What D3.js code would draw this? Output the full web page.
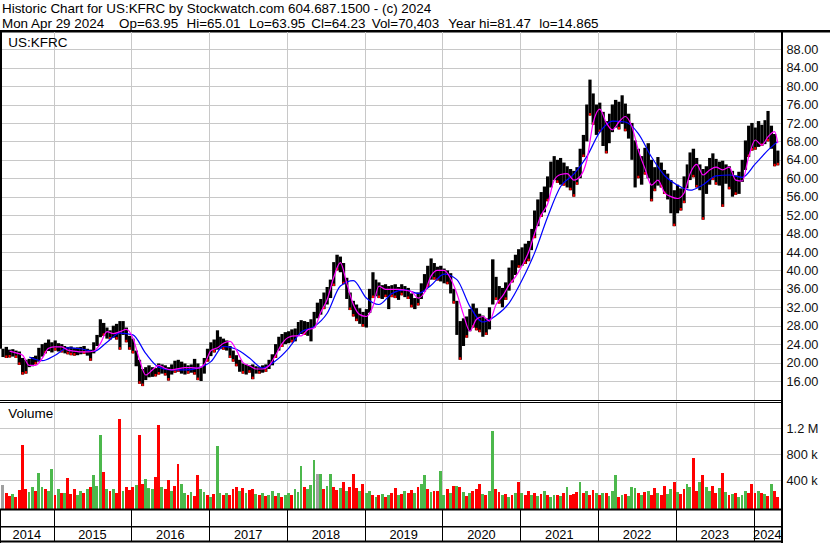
<!DOCTYPE html>
<html>
<head>
<meta charset="utf-8">
<title>US:KFRC historic chart</title>
<script src="https://cdn.jsdelivr.net/npm/d3@7"></script>
<style>
  body { margin: 0; background: #fff; }
  svg { display: block; font-family: "Liberation Sans", Arial, sans-serif; }
</style>
</head>
<body>
<div id="chart"></div>
<script>
// Header texts
var titleLine = "Historic Chart for US:KFRC by Stockwatch.com 604.687.1500 - (c) 2024";
var quoteFields = ["Mon Apr 29 2024", "Op=63.95", "Hi=65.01", "Lo=63.95", "Cl=64.23", "Vol=70,403", "Year hi=81.47", "lo=14.865"];
var symbol = "US:KFRC";

// Axis ticks
var priceTicks = [16, 20, 24, 28, 32, 36, 40, 44, 48, 52, 56, 60, 64, 68, 72, 76, 80, 84, 88];
var volTicks = [400000, 800000, 1200000];
var volTickLabels = ["400 k", "800 k", "1.2 M"];
var years = [2014, 2015, 2016, 2017, 2018, 2019, 2020, 2021, 2022, 2023, 2024];

// Price range per half-month slot, May 2014 (1st half) .. Apr 2024 (2nd half)
var highs = [
  23.0, 23.4, 22.8, 22.9, 22.6, 22.4, 21.0, 20.6, 20.8, 21.2, 21.5, 23.2, 24.0, 24.3, 25.0, 24.4,             // 2014
  24.8, 24.2, 24.0, 23.6, 23.4, 23.5, 23.2, 23.3, 23.4, 23.6, 23.0, 22.8, 24.4, 26.0, 29.4, 28.6, 27.6, 27.0, 28.0, 28.4, 29.0, 29.0, 27.6, 25.8, // 2015
  25.2, 22.6, 20.6, 18.6, 19.0, 19.4, 19.0, 18.8, 19.8, 19.6, 19.4, 19.0, 19.6, 20.4, 20.6, 20.2, 19.8, 19.4, 19.6, 20.8, 19.8, 19.0, 21.0, 23.0, // 2016
  24.4, 25.0, 27.0, 25.6, 25.2, 24.8, 23.6, 22.6, 21.6, 20.6, 19.8, 19.6, 19.4, 19.6, 19.2, 19.0, 19.4, 19.6, 20.6, 21.8, 24.0, 25.6, 26.2, 26.6, // 2017
  26.8, 27.2, 27.4, 28.8, 29.2, 29.0, 28.8, 29.4, 31.0, 33.0, 33.8, 35.2, 36.4, 38.0, 41.8, 43.4, 43.0, 41.6, 38.4, 35.2, 33.4, 32.6, 31.8, 31.0, // 2018
  31.6, 36.0, 39.6, 38.0, 37.4, 36.8, 37.0, 36.6, 36.8, 37.0, 36.4, 37.0, 36.6, 36.2, 35.0, 34.0, 35.2, 37.2, 39.2, 41.0, 42.6, 41.6, 40.8, 41.0, // 2019
  40.4, 40.0, 39.4, 36.0, 33.4, 29.0, 29.6, 30.0, 31.6, 32.8, 31.8, 30.6, 30.2, 29.6, 32.0, 42.4, 38.6, 36.6, 36.2, 37.4, 40.6, 42.2, 43.4, 44.6, // 2020
  45.0, 45.8, 46.4, 49.0, 53.0, 55.4, 57.0, 58.2, 60.4, 63.6, 64.8, 64.0, 64.4, 63.4, 62.6, 62.0, 61.6, 62.4, 66.4, 69.4, 76.0, 81.4, 78.4, 76.0, // 2021
  76.4, 74.4, 72.4, 74.0, 76.0, 77.0, 76.6, 78.0, 76.2, 74.0, 72.0, 68.2, 66.4, 64.8, 66.6, 67.6, 64.0, 62.4, 64.6, 63.4, 61.8, 61.0, 59.6, 57.4, // 2022
  58.6, 57.8, 60.4, 63.0, 65.6, 66.4, 64.4, 63.0, 62.0, 62.6, 64.4, 65.4, 64.2, 63.6, 63.8, 63.0, 62.6, 61.6, 60.6, 61.4, 64.0, 68.2, 71.4, 72.0, // 2023
  71.0, 72.4, 71.6, 72.6, 74.6, 71.4, 69.6, 66.0                                                             // 2024
];
var lows = [
  21.2, 21.0, 21.1, 21.3, 21.0, 19.5, 17.4, 17.6, 19.0, 19.2, 19.6, 20.2, 21.3, 22.0, 22.5, 22.2,
  22.6, 22.4, 22.2, 22.0, 21.8, 21.6, 21.5, 21.6, 21.8, 21.9, 21.5, 20.4, 22.0, 23.6, 25.5, 25.8, 25.2, 25.0, 25.4, 25.0, 22.8, 26.0, 24.4, 22.8,
  22.0, 19.2, 15.4, 14.9, 16.2, 16.8, 16.9, 17.0, 17.4, 17.6, 17.2, 16.1, 17.4, 17.8, 18.0, 17.6, 17.4, 17.6, 17.8, 17.4, 16.2, 16.0, 17.6, 20.2,
  21.4, 22.2, 22.8, 23.0, 22.8, 22.6, 21.0, 20.2, 19.2, 18.0, 17.6, 17.4, 17.8, 16.4, 17.6, 17.6, 17.8, 18.0, 18.6, 19.4, 21.0, 22.6, 23.4, 24.0,
  24.2, 24.4, 24.6, 25.8, 26.2, 26.0, 25.8, 24.6, 27.6, 29.6, 30.4, 31.6, 32.6, 34.0, 36.6, 40.0, 39.6, 37.0, 33.8, 31.4, 30.0, 29.0, 28.4, 27.8,
  27.6, 30.8, 34.0, 34.4, 34.0, 33.8, 34.2, 31.6, 34.2, 34.0, 33.6, 34.6, 34.2, 33.8, 32.0, 31.6, 32.4, 33.8, 35.4, 36.4, 38.0, 38.0, 37.8, 37.6,
  37.2, 37.0, 35.0, 32.8, 26.0, 20.6, 23.6, 25.4, 26.8, 27.6, 27.0, 26.6, 25.6, 26.0, 27.2, 32.6, 33.6, 32.8, 32.0, 33.6, 35.6, 37.4, 39.0, 40.6,
  41.0, 41.4, 42.0, 44.4, 47.0, 49.6, 51.6, 52.6, 55.0, 58.0, 59.6, 59.0, 58.6, 58.4, 58.0, 57.4, 56.0, 58.6, 60.0, 64.6, 68.0, 73.6, 71.6, 69.4,
  70.0, 67.0, 65.4, 67.6, 70.0, 71.0, 70.6, 71.8, 70.2, 68.6, 64.0, 58.0, 60.0, 58.6, 60.8, 60.0, 55.0, 57.2, 58.4, 58.0, 56.6, 55.4, 52.4, 49.6,
  52.4, 53.0, 54.6, 57.8, 59.6, 60.2, 58.0, 57.4, 51.0, 56.6, 58.6, 59.6, 58.6, 58.4, 53.8, 58.8, 57.6, 56.0, 56.4, 56.6, 59.2, 61.8, 64.6, 66.0,
  66.2, 66.8, 67.0, 67.4, 68.0, 66.4, 62.6, 62.8
];

// Magenta average, read at slots 2, 4, ... 238 and the last slot 239
var maFast = [
  22.5, 22.1, 21.6, 19.4, 19.4, 20.9, 23.1,
  23.4, 23.4, 22.7, 22.5, 22.3, 22.3, 22.5, 24.1, 26.7, 26.3, 26.7, 27.2,
  25.3, 20.6, 17.3, 18.4, 19.4, 18.7, 18.4, 18.7, 18.9, 18.9, 18.8, 19.6,
  22.6, 23.2, 24.2, 24.6, 22.7, 20.0, 19.3, 18.6, 18.6, 19.3, 21.6, 24.1,
  25.5, 25.8, 25.8, 27.1, 27.5, 30.9, 33.7, 38.5, 41.7, 37.2, 32.6, 30.4,
  30.0, 32.2, 36.6, 35.9, 35.9, 35.9, 35.7, 35.4, 34.0, 35.2, 38.8, 40.0,
  40.0, 38.2, 35.0, 30.4, 26.8, 29.4, 30.0, 29.0, 32.6, 34.4, 36.8, 38.6,
  41.0, 44.0, 48.0, 52.0, 54.4, 59.6, 60.8, 61.0, 59.6, 60.4, 63.9, 72.0,
  75.0, 72.0, 70.5, 72.2, 73.4, 71.2, 66.1, 62.1, 58.5, 59.6, 56.9, 56.0,
  55.6, 56.8, 61.0, 63.0, 60.7, 61.8, 62.4, 61.8, 62.4, 59.6, 59.4, 64.6,
  68.3, 67.2, 69.0, 70.1, 67.6
];

// Blue average, read at slots 8, 12, ... 236 and the last slot 239
var maSlow = [
  21.2, 20.4, 21.6, 23.2, 23.0, 22.4, 24.4, 26.4, 26.0, 22.0, 19.0, 18.4,
  18.4, 18.8, 20.2, 23.5, 22.9, 21.0, 18.8, 20.4, 23.1, 26.6, 27.8, 30.7,
  36.6, 37.8, 34.0, 32.6, 35.0, 35.8, 35.0, 36.8, 39.2, 38.0, 32.2, 28.8,
  30.2, 32.9, 37.9, 43.8, 51.6, 58.2, 60.9, 64.7, 70.0, 72.4, 72.2, 69.7,
  64.6, 60.6, 58.5, 57.4, 58.6, 60.5, 60.7, 60.2, 63.1, 66.1,
  68.0
];

// Volume per slot (thousands) and direction: u = up, d = down, n = unchanged
var volume = [
  330, 200, 160, 190, 150, 250, 940, 260, 220, 290, 240, 520, 300, 260, 230, 570,
  180, 260, 210, 200, 440, 190, 260, 170, 230, 200, 270, 300, 480, 320, 1100, 530, 260, 230, 270, 210, 1350, 240, 290, 250,
  300, 330, 1100, 350, 420, 280, 260, 450, 1250, 300, 260, 400, 240, 310, 650, 350, 200, 180, 220, 160, 480, 260, 220, 180,
  150, 190, 930, 210, 180, 200, 170, 260, 300, 230, 280, 210, 250, 270, 190, 170, 200, 160, 180, 230, 160, 210, 150, 170,
  200, 180, 270, 220, 620, 300, 260, 330, 710, 500, 500, 270, 310, 490, 300, 250, 280, 370, 230, 300, 500, 280, 230, 350,
  200, 240, 180, 150, 170, 190, 140, 170, 210, 280, 170, 190, 230, 200, 250, 200, 300, 350, 480, 260, 220, 240, 240, 540,
  170, 260, 200, 310, 320, 300, 220, 160, 200, 230, 260, 350, 190, 170, 240, 1160, 260, 220, 170, 190, 150, 170, 200, 370,
  200, 180, 230, 170, 210, 160, 190, 230, 170, 150, 180, 180, 160, 200, 300, 170, 190, 220, 370, 200, 230, 180, 250, 200,
  170, 200, 210, 160, 230, 480, 150, 170, 190, 160, 300, 280, 200, 170, 220, 230, 180, 280, 200, 170, 320, 190, 260, 370,
  220, 190, 260, 340, 300, 750, 240, 370, 480, 300, 240, 310, 200, 280, 510, 220, 170, 190, 210, 150, 180, 230, 200, 350,
  210, 240, 200, 190, 160, 350, 240, 150
];
var volDir = [
  "nddu dddd uudu uduu",
  "dudu dddu udud uuud udud dudd",
  "dudd uuud dudd uddu udud duud",
  "uduu dudd dudu ddud uduu dudu",
  "uduu uduu unud uudd udud ddud",
  "uudu dudu ddud uddu duud uddu",
  "udud udud uddd uduu ddud udud",
  "uddu dudu duud udud ddud uddu",
  "dudu uudu duuu dudu ddud duud",
  "uddu uddu duud dudu dudu uudd",
  "dudu dudd"
].join("").replace(/ /g, "").split("");

var svgWidth = 830, svgHeight = 543;
var plotLeft = 0, plotRight = 781;
var priceTop = 32, priceBottom = 400;
var volTop = 403, volBottom = 508.5;

var svg = d3.select("#chart").append("svg")
  .attr("width", svgWidth)
  .attr("height", svgHeight);

// Scales
var x = d3.scaleTime()
  .domain([new Date(2014, 3, 29), new Date(2024, 3, 29)])
  .range([1, 779]);
var yPrice = d3.scaleLinear().domain([16, 88]).range([381, 49.2]);
var yVol = d3.scaleLinear().domain([0, 1200000]).range([506.3, 428.3]);

// slot i = half month starting May 2014
function slotStart(i) {
  var d = d3.timeMonth.offset(new Date(2014, 4, 1), Math.floor(i / 2));
  return i % 2 ? d3.timeDay.offset(d, 15) : d;
}
function slotX0(i) { return x(slotStart(i)); }
function slotX1(i) { return Math.min(x(slotStart(i + 1)), plotRight); }
function slotMid(i) { return (x(slotStart(i)) + x(slotStart(i + 1))) / 2; }

var slots = d3.range(highs.length);
var fastSlots = d3.range(2, 239, 2).concat([239]);
var slowSlots = d3.range(8, 237, 4).concat([239]);

var yearBounds = years.slice(1).map(function(y) { return x(new Date(y, 0, 1)); });

// font size that makes a text as wide as it is in the picture
function fitSize(str, width) {
  var t = svg.append("text").attr("font-size", 20).text(str);
  var w = t.node().getComputedTextLength();
  t.remove();
  return 20 * width / w;
}
var headerSize = fitSize(titleLine, 429.5);
var labelSize = fitSize("Volume", 45);
var axisSize = fitSize("88.00", 32);

// Header
svg.append("text")
  .attr("x", 2).attr("y", 13)
  .attr("font-size", headerSize)
  .text(titleLine);
var fieldX = [2, 119, 186.5, 249, 308, 371.7, 448.3, 539.3];
var prevEnd = -100;
quoteFields.forEach(function(f, i) {
  var t = svg.append("text")
    .attr("x", Math.max(fieldX[i], prevEnd + 6))
    .attr("y", 27.5)
    .attr("font-size", headerSize)
    .text(f);
  prevEnd = +t.attr("x") + t.node().getComputedTextLength();
});

svg.append("rect").attr("x", 0).attr("y", 30).attr("width", svgWidth).attr("height", 2.5).attr("fill", "#000");

// Clip for price panel
svg.append("clipPath").attr("id", "priceClip")
  .append("rect")
  .attr("x", plotLeft).attr("y", priceTop)
  .attr("width", plotRight - plotLeft).attr("height", priceBottom - priceTop);

var grid = svg.append("g")
  .attr("stroke", "#c8c8c8")
  .attr("stroke-width", 1)
  .attr("shape-rendering", "crispEdges");

// price grid
grid.selectAll(".hgrid")
  .data(priceTicks)
  .enter()
  .append("line")
  .attr("x1", plotLeft).attr("x2", plotRight)
  .attr("y1", function(d) { return Math.round(yPrice(d)) + 0.5; })
  .attr("y2", function(d) { return Math.round(yPrice(d)) + 0.5; });
grid.selectAll(".vgrid")
  .data(yearBounds)
  .enter()
  .append("line")
  .attr("x1", function(d) { return Math.round(d) + 0.5; })
  .attr("x2", function(d) { return Math.round(d) + 0.5; })
  .attr("y1", priceTop).attr("y2", priceBottom);

// volume grid
grid.selectAll(".vhgrid")
  .data(volTicks)
  .enter()
  .append("line")
  .attr("x1", plotLeft).attr("x2", plotRight)
  .attr("y1", function(d) { return Math.round(yVol(d)) + 0.5; })
  .attr("y2", function(d) { return Math.round(yVol(d)) + 0.5; });
grid.selectAll(".vvgrid")
  .data(yearBounds)
  .enter()
  .append("line")
  .attr("x1", function(d) { return Math.round(d) + 0.5; })
  .attr("x2", function(d) { return Math.round(d) + 0.5; })
  .attr("y1", volTop).attr("y2", volBottom);

// Price bars
var priceGroup = svg.append("g").attr("clip-path", "url(#priceClip)");
priceGroup.selectAll(".bar")
  .data(slots)
  .enter()
  .append("rect")
  .attr("class", "bar")
  .attr("x", function(i) { return slotX0(i); })
  .attr("width", function(i) { return slotX1(i) - slotX0(i); })
  .attr("y", function(i) { return yPrice(highs[i]); })
  .attr("height", function(i) { return yPrice(lows[i]) - yPrice(highs[i]); })
  .attr("fill", "#000");

// red close ticks on falling periods
priceGroup.selectAll(".tick-dn")
  .data(slots.filter(function(i) { return volDir[i] === "d"; }))
  .enter()
  .append("rect")
  .attr("class", "tick-dn")
  .attr("x", function(i) { return slotMid(i) - 1; })
  .attr("width", 2)
  .attr("y", function(i) { return yPrice(lows[i]) - 2.5; })
  .attr("height", 2.5)
  .attr("fill", "#ff0000");

// Moving averages
var line = d3.line()
  .x(function(d) { return slotMid(d[0]); })
  .y(function(d) { return yPrice(d[1]); })
  .curve(d3.curveMonotoneX);

priceGroup.append("path")
  .datum(d3.zip(slowSlots, maSlow))
  .attr("d", line)
  .attr("fill", "none")
  .attr("stroke", "#0000ff")
  .attr("stroke-width", 1.2);

priceGroup.append("path")
  .datum(d3.zip(fastSlots, maFast))
  .attr("d", line)
  .attr("fill", "none")
  .attr("stroke", "#ff00ff")
  .attr("stroke-width", 1.2);

// left frame piece above first bar
svg.append("rect")
  .attr("x", 0).attr("y", 30)
  .attr("width", 2).attr("height", yPrice(highs[0]) - 30)
  .attr("fill", "#000");

svg.append("text")
  .attr("x", 8.3).attr("y", 46.5)
  .attr("font-size", labelSize)
  .text(symbol);

// Double line between panels
svg.append("rect").attr("x", 0).attr("y", 400).attr("width", plotRight).attr("height", 1).attr("fill", "#000");
svg.append("rect").attr("x", 0).attr("y", 402).attr("width", plotRight).attr("height", 1).attr("fill", "#000");

// Volume bars
var volColor = { u: "#4cb84c", d: "#ff0000", n: "#a0a0a0" };
svg.append("g")
  .attr("shape-rendering", "crispEdges")
  .selectAll(".vbar")
  .data(slots)
  .enter()
  .append("rect")
  .attr("class", "vbar")
  .attr("x", function(i) { return slotX0(i); })
  .attr("width", function(i) { return Math.max(1, slotX1(i) - slotX0(i) - 0.4); })
  .attr("y", function(i) { return yVol(volume[i] * 1000); })
  .attr("height", function(i) { return volBottom - yVol(volume[i] * 1000); })
  .attr("fill", function(i) { return volColor[volDir[i]]; });

svg.append("text")
  .attr("x", 8.3).attr("y", 417.5)
  .attr("font-size", labelSize)
  .text("Volume");

// Time rows at the bottom
svg.append("rect").attr("x", 0).attr("y", 508.5).attr("width", plotRight).attr("height", 2).attr("fill", "#000");
svg.append("rect").attr("x", 0).attr("y", 526).attr("width", plotRight).attr("height", 1.5).attr("fill", "#000");
svg.append("rect").attr("x", 0).attr("y", 540.5).attr("width", plotRight).attr("height", 2).attr("fill", "#000");
svg.append("rect").attr("x", 0).attr("y", 509).attr("width", 1).attr("height", 34).attr("fill", "#000");

svg.selectAll(".ysep")
  .data(yearBounds)
  .enter()
  .append("line")
  .attr("x1", function(d) { return Math.round(d) + 0.5; })
  .attr("x2", function(d) { return Math.round(d) + 0.5; })
  .attr("y1", 510).attr("y2", 541)
  .attr("stroke", "#000")
  .attr("shape-rendering", "crispEdges");

var cellEdges = [plotLeft].concat(yearBounds).concat([plotRight]);
svg.selectAll(".year")
  .data(years)
  .enter()
  .append("text")
  .attr("class", "year")
  .attr("x", function(d, i) { return (cellEdges[i] + cellEdges[i + 1]) / 2; })
  .attr("y", 539)
  .attr("text-anchor", "middle")
  .attr("font-size", axisSize)
  .text(function(d) { return d; });

// Right axis
svg.append("rect").attr("x", plotRight).attr("y", 30).attr("width", 2).attr("height", svgHeight - 30).attr("fill", "#000");

var priceAxis = d3.axisRight(yPrice)
  .tickValues(priceTicks)
  .tickSize(0)
  .tickPadding(0)
  .tickFormat(d3.format(".2f"));
var pa = svg.append("g")
  .attr("transform", "translate(786.5,0)")
  .call(priceAxis);
pa.select(".domain").remove();
pa.selectAll("text")
  .attr("font-size", axisSize)
  .attr("font-family", "Liberation Sans, Arial, sans-serif")
  .attr("fill", "#111");

var volAxis = d3.axisRight(yVol)
  .tickValues(volTicks)
  .tickSize(0)
  .tickPadding(0)
  .tickFormat(function(d, i) { return volTickLabels[i]; });
var va = svg.append("g")
  .attr("transform", "translate(786.5,0)")
  .call(volAxis);
va.select(".domain").remove();
va.selectAll("text")
  .attr("font-size", axisSize)
  .attr("font-family", "Liberation Sans, Arial, sans-serif")
  .attr("fill", "#111");
</script>
</body>
</html>
